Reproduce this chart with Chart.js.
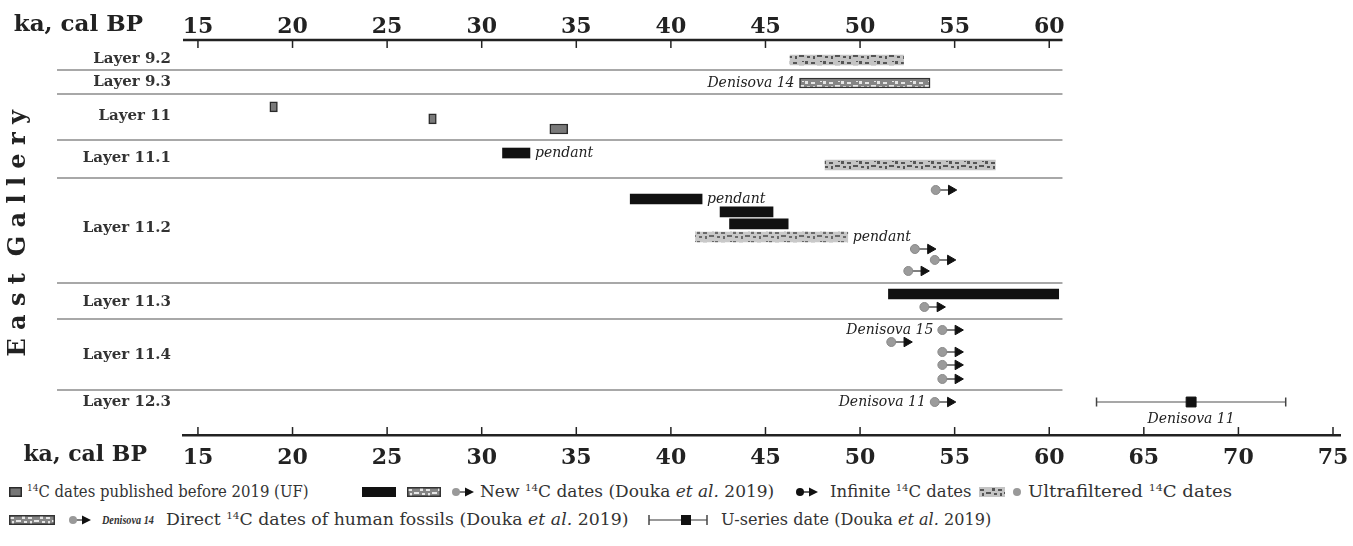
<!DOCTYPE html>
<html>
<head>
<meta charset="utf-8">
<script src="https://cdn.jsdelivr.net/npm/chart.js@4.4.1/dist/chart.umd.min.js"></script>
<style>
  body { margin: 0; background: #fff; }
  #wrap { position: relative; width: 1353px; height: 546px; }
  #legend { position: absolute; left: 0; top: 470px; width: 1353px; height: 76px;
            font-family: "DejaVu Serif", serif; font-size: 16.5px; color: #333; }
  #legend > .t { position: absolute; line-height: 20px; white-space: nowrap; transform-origin: left center; }
  #legend > svg { position: absolute; }
  #legend sup { font-size: 10px; vertical-align: 6px; line-height: 0; }
  .r1 { top: 12px; }
  .r2 { top: 40px; }
</style>
</head>
<body>
<div id="wrap">
  <canvas id="chart" width="1353" height="470"></canvas>
  <div id="legend">
    <svg width="0" height="0" style="position:absolute">
      <defs>
        <pattern id="hatchLight" width="18" height="10" patternUnits="userSpaceOnUse">
          <rect width="18" height="10" fill="#c4c4c4"/>
          <rect x="1" y="2" width="4" height="2" fill="#555"/><rect x="7" y="5" width="5" height="2" fill="#555"/>
          <rect x="13" y="1" width="3" height="3" fill="#555"/><rect x="3" y="6" width="2" height="3" fill="#555"/>
          <rect x="15" y="6" width="3" height="2" fill="#555"/>
        </pattern>
        <pattern id="hatchDark" width="18" height="10" patternUnits="userSpaceOnUse">
          <rect width="18" height="10" fill="#858585"/>
          <rect x="1" y="2" width="4" height="2" fill="#e6e6e6"/><rect x="7" y="5" width="5" height="2" fill="#e6e6e6"/>
          <rect x="13" y="1" width="3" height="3" fill="#e6e6e6"/><rect x="3" y="6" width="2" height="3" fill="#e6e6e6"/>
          <rect x="15" y="6" width="3" height="2" fill="#e6e6e6"/>
        </pattern>
      </defs>
    </svg>
    <!-- row 1 -->
    <svg style="left:9px;top:17px" width="13" height="10"><rect x="0.75" y="0.75" width="11.5" height="8.5" fill="#777" stroke="#2a2a2a" stroke-width="1.5"/></svg>
    <span class="t r1" style="left:27px;transform:scaleX(0.9)"><sup>14</sup>C dates published before 2019 (UF)</span>
    <svg style="left:362px;top:17px" width="34" height="10"><rect width="34" height="10" fill="#111"/></svg>
    <svg style="left:407px;top:17px" width="34" height="10"><rect x="0.75" y="0.75" width="32.5" height="8.5" fill="url(#hatchDark)" stroke="#333" stroke-width="1.5"/></svg>
    <svg style="left:451px;top:16px" width="24" height="12"><line x1="8" y1="6" x2="16" y2="6" stroke="#555" stroke-width="1.5"/><circle cx="5" cy="6" r="4" fill="#999"/><polygon points="14,1.5 23,6 14,10.5" fill="#111"/></svg>
    <span class="t r1" style="left:480px;transform:scaleX(1.03)">New <sup>14</sup>C dates (Douka <i>et al.</i> 2019)</span>
    <svg style="left:795px;top:16px" width="24" height="12"><line x1="8" y1="6" x2="16" y2="6" stroke="#333" stroke-width="1.5"/><circle cx="5" cy="6" r="4" fill="#111"/><polygon points="14,1.5 23,6 14,10.5" fill="#111"/></svg>
    <span class="t r1" style="left:830px">Infinite <sup>14</sup>C dates</span>
    <svg style="left:979px;top:17px" width="26" height="10"><rect width="26" height="10" fill="url(#hatchLight)"/></svg>
    <svg style="left:1012px;top:17px" width="10" height="10"><circle cx="5" cy="5" r="4" fill="#999"/></svg>
    <span class="t r1" style="left:1028px;transform:scaleX(1.1)">Ultrafiltered <sup>14</sup>C dates</span>
    <!-- row 2 -->
    <svg style="left:9px;top:45px" width="46" height="10"><rect x="0.75" y="0.75" width="44.5" height="8.5" fill="url(#hatchDark)" stroke="#333" stroke-width="1.5"/></svg>
    <svg style="left:68px;top:44px" width="24" height="12"><line x1="8" y1="6" x2="16" y2="6" stroke="#555" stroke-width="1.5"/><circle cx="5" cy="6" r="4" fill="#999"/><polygon points="14,1.5 23,6 14,10.5" fill="#111"/></svg>
    <span class="t r2" style="left:102px;font-family:'Liberation Serif',serif;font-size:12px;font-weight:bold;font-style:italic;transform:scaleX(0.85)">Denisova 14</span>
    <span class="t r2" style="left:166px;transform:scaleX(1.05)">Direct <sup>14</sup>C dates of human fossils (Douka <i>et al.</i> 2019)</span>
    <svg style="left:648px;top:44px" width="60" height="12"><line x1="1" y1="6" x2="59" y2="6" stroke="#777" stroke-width="1.5"/><line x1="1" y1="1" x2="1" y2="11" stroke="#444" stroke-width="1.5"/><line x1="59" y1="1" x2="59" y2="11" stroke="#444" stroke-width="1.5"/><rect x="33" y="1" width="10" height="10" fill="#111"/></svg>
    <span class="t r2" style="left:721px;transform:scaleX(0.975)">U-series date (Douka <i>et al.</i> 2019)</span>
  </div>
</div>
<script>
// layers (rows), y in "track" units counted down from the top axis
const layerNames = ['Layer 9.2', 'Layer 9.3', 'Layer 11', 'Layer 11.1', 'Layer 11.2', 'Layer 11.3', 'Layer 11.4', 'Layer 12.3'];
const layerLabelPos = [1.58, 3.5, 6.33, 9.83, 15.67, 21.83, 26.25, 30.17];
const layerBounds = [2.5, 4.5, 8.33, 11.5, 20.25, 23.25, 29.17];

const xTicksBottom = [15, 20, 25, 30, 35, 40, 45, 50, 55, 60, 65, 70, 75];
const xTicksTop = [15, 20, 25, 30, 35, 40, 45, 50, 55, 60];

// 14C dates published before 2019 (UF)
const oldFrom = [18.8, 27.2, 33.6];
const oldTo = [19.2, 27.6, 34.55];
const oldRow = [5.58, 6.58, 7.42];

// New 14C dates (Douka et al. 2019), black bars
const newFrom = [31.1, 37.85, 42.6, 43.1, 51.5];
const newTo = [32.55, 41.65, 45.4, 46.2, 60.5];
const newRow = [9.42, 13.25, 14.33, 15.33, 21.17];

// New 14C dates, hatched
const newHatchFrom = [41.3];
const newHatchTo = [49.35];
const newHatchRow = [16.42];

// Ultrafiltered 14C dates
const ufFrom = [46.3, 48.15];
const ufTo = [52.3, 57.15];
const ufRow = [1.67, 10.42];

// Direct 14C dates of human fossils
const directFrom = [46.8];
const directTo = [53.7];
const directRow = [3.58];

// infinite dates (minimum ages)
const infAge = [54.0, 52.9, 53.95, 52.55, 53.4, 54.35, 51.65, 54.35, 54.35, 54.35, 53.95];
const infRow = [12.5, 17.42, 18.33, 19.25, 22.25, 24.17, 25.17, 26.0, 27.08, 28.25, 30.17];

// U-series date
const uAge = [67.5];
const uLow = [62.5];
const uHigh = [72.5];
const uRow = [30.17];

// text notes
const noteText = ['pendant', 'pendant', 'pendant', 'Denisova 14', 'Denisova 15', 'Denisova 11', 'Denisova 11'];
const noteX = [32.55, 41.65, 49.35, 46.8, 54.35, 53.95, 67.5];
const noteRow = [9.42, 13.25, 16.42, 3.58, 24.17, 30.17, 31.58];
const noteSide = ['after', 'after', 'after', 'before', 'beforeDot', 'beforeDot', 'below'];

const X_MIN = 14.21, X_MAX = 75.37, Y_MAX = 32.92;
const TOP_AXIS_END = 60.7, SEP_START = 7.55;
const ARROW = 0.82;
const FONT = '"DejaVu Serif", serif';

const canvas = document.getElementById('chart');
const cctx = canvas.getContext('2d');

function makeHatch(base, ink) {
    const c = document.createElement('canvas');
    c.width = 18; c.height = 10;
    const g = c.getContext('2d');
    g.fillStyle = base;
    g.fillRect(0, 0, 18, 10);
    g.fillStyle = ink;
    g.fillRect(1, 2, 4, 2); g.fillRect(7, 5, 5, 2); g.fillRect(13, 1, 3, 3);
    g.fillRect(3, 6, 2, 3); g.fillRect(15, 6, 3, 2); g.fillRect(10, 1, 2, 1);
    return cctx.createPattern(c, 'repeat');
}

const styles = {
    old: { fill: '#7a7a7a', border: '#2a2a2a', width: 1.5 },
    new: { fill: '#111111', border: '#111111', width: 0 },
    newHatch: { fill: makeHatch('#c8c8c8', '#6a6a6a'), border: '#aaa', width: 0 },
    uf: { fill: makeHatch('#c4c4c4', '#555'), border: '#999', width: 0 },
    direct: { fill: makeHatch('#858585', '#e6e6e6'), border: '#333', width: 1.5 }
};

const barData = [];
const barKind = [];
function addBars(kind, from, to, row) {
    from.forEach((f, i) => {
        barData.push({ x: [f, to[i]], y: row[i] });
        barKind.push(kind);
    });
}
addBars('old', oldFrom, oldTo, oldRow);
addBars('new', newFrom, newTo, newRow);
addBars('newHatch', newHatchFrom, newHatchTo, newHatchRow);
addBars('uf', ufFrom, ufTo, ufRow);
addBars('direct', directFrom, directTo, directRow);

const stemData = [];
infAge.forEach((v, i) => {
    stemData.push({ x: v, y: infRow[i] }, { x: v + ARROW, y: infRow[i] }, { x: null, y: null });
});

const sepData = [];
layerBounds.forEach(b => {
    sepData.push({ x: SEP_START, y: b }, { x: TOP_AXIS_END, y: b }, { x: null, y: null });
});

const tickMarks = xTicksBottom.map(v => ({ x: v, y: Y_MAX - 0.33 }))
    .concat(xTicksTop.map(v => ({ x: v, y: 0.33 })));

const notesPlugin = {
    id: 'notes',
    afterDatasetsDraw(chart) {
        const { ctx, chartArea } = chart;
        const x = chart.scales.x, y = chart.scales.y;
        ctx.save();
        ctx.fillStyle = '#222';
        ctx.textBaseline = 'middle';
        ctx.font = 'italic 14px ' + FONT;
        noteText.forEach((t, i) => {
            const px = x.getPixelForValue(noteX[i]);
            const py = y.getPixelForValue(noteRow[i]);
            if (noteSide[i] === 'after') {
                ctx.textAlign = 'left';
                ctx.fillText(t, px + 5, py);
            } else if (noteSide[i] === 'before') {
                ctx.textAlign = 'right';
                ctx.fillText(t, px - 5, py);
            } else if (noteSide[i] === 'beforeDot') {
                ctx.textAlign = 'right';
                ctx.fillText(t, px - 9, py);
            } else {
                ctx.textAlign = 'center';
                ctx.fillText(t, px, py);
            }
        });
        ctx.textAlign = 'right';
        ctx.font = 'bold 23px ' + FONT;
        ctx.fillText('ka, cal BP', chartArea.left - 40, chartArea.top - 15);
        ctx.font = 'bold 22px ' + FONT;
        ctx.fillText('ka, cal BP', chartArea.left - 36, chartArea.bottom + 20);
        ctx.restore();
    }
};

const tickFont = { family: FONT, weight: 'bold', size: 22 };

new Chart(canvas, {
    type: 'scatter',
    data: {
        datasets: [
            {
                type: 'scatter',
                data: infAge.map((v, i) => ({ x: v, y: infRow[i] })),
                pointStyle: 'circle',
                pointRadius: 4.5,
                pointBackgroundColor: '#9b9b9b',
                pointBorderColor: '#8a8a8a',
                pointBorderWidth: 1,
                order: 0
            },
            {
                type: 'line',
                data: stemData,
                borderColor: '#555',
                borderWidth: 1.5,
                pointStyle: 'triangle',
                pointRotation: 90,
                pointRadius: ctx => ctx.dataIndex % 3 === 1 ? 5.5 : 0,
                pointBackgroundColor: '#111',
                pointBorderColor: '#111',
                pointBorderWidth: 1,
                spanGaps: false,
                order: 1
            },
            {
                type: 'scatter',
                data: uAge.map((v, i) => ({ x: v, y: uRow[i] })),
                pointStyle: 'rect',
                pointRadius: 7,
                pointBackgroundColor: '#111',
                pointBorderColor: '#111',
                order: 0
            },
            {
                type: 'line',
                data: uAge.flatMap((v, i) => [{ x: uLow[i], y: uRow[i] }, { x: uHigh[i], y: uRow[i] }]),
                borderColor: '#8a8a8a',
                borderWidth: 1.5,
                pointStyle: 'line',
                pointRotation: 90,
                pointRadius: 4.5,
                pointBorderColor: '#444',
                pointBorderWidth: 1.5,
                order: 1
            },
            {
                type: 'bar',
                indexAxis: 'y',
                data: barData,
                barThickness: 10,
                borderSkipped: false,
                backgroundColor: ctx => styles[barKind[ctx.dataIndex]].fill,
                borderColor: ctx => styles[barKind[ctx.dataIndex]].border,
                borderWidth: ctx => styles[barKind[ctx.dataIndex]].width,
                order: 2
            },
            {
                type: 'line',
                data: sepData,
                borderColor: '#8c8c8c',
                borderWidth: 1.5,
                pointRadius: 0,
                spanGaps: false,
                clip: false,
                order: 5
            },
            {
                type: 'line',
                data: [{ x: X_MIN, y: 0 }, { x: TOP_AXIS_END, y: 0 }],
                borderColor: '#222',
                borderWidth: 2.5,
                pointRadius: 0,
                clip: false,
                order: 4
            },
            {
                type: 'scatter',
                data: tickMarks,
                pointStyle: 'line',
                pointRotation: 90,
                pointRadius: 4,
                pointBorderColor: '#222',
                pointBorderWidth: 1.5,
                clip: false,
                order: 4
            }
        ]
    },
    options: {
        responsive: false,
        animation: false,
        events: [],
        layout: { padding: { right: 13 } },
        plugins: { legend: { display: false }, tooltip: { enabled: false } },
        scales: {
            x: {
                type: 'linear', position: 'bottom', min: X_MIN, max: X_MAX, offset: false,
                afterBuildTicks: s => { s.ticks = xTicksBottom.map(v => ({ value: v })); },
                afterFit: s => { s.height = 35; },
                grid: { display: false, offset: false },
                border: { display: true, color: '#222', width: 2.5 },
                ticks: { font: tickFont, color: '#222', padding: 2, autoSkip: false, maxRotation: 0 }
            },
            x2: {
                type: 'linear', axis: 'x', position: 'top', min: X_MIN, max: X_MAX, offset: false,
                afterBuildTicks: s => { s.ticks = xTicksTop.map(v => ({ value: v })); },
                afterFit: s => { s.height = 40; },
                grid: { display: false, offset: false },
                border: { display: false },
                ticks: { font: tickFont, color: '#222', padding: -8, autoSkip: false, maxRotation: 0 }
            },
            y: {
                type: 'linear', reverse: true, min: 0, max: Y_MAX, offset: false,
                afterBuildTicks: s => { s.ticks = layerLabelPos.map(v => ({ value: v })); },
                afterFit: s => { s.width = 183; s.paddingTop = 0; s.paddingBottom = 0; },
                grid: { display: false, offset: false },
                border: { display: false },
                ticks: {
                    callback: (v, i) => layerNames[i],
                    font: { family: FONT, weight: 'bold', size: 15 },
                    color: '#333', padding: 4, autoSkip: false
                },
                title: {
                    display: true,
                    text: ' E a s t  G a l l e r y',
                    font: { family: FONT, weight: 'bold', size: 24 },
                    color: '#222',
                    padding: { top: 4, bottom: 0 }
                }
            }
        }
    },
    plugins: [notesPlugin]
});
</script>
</body>
</html>
